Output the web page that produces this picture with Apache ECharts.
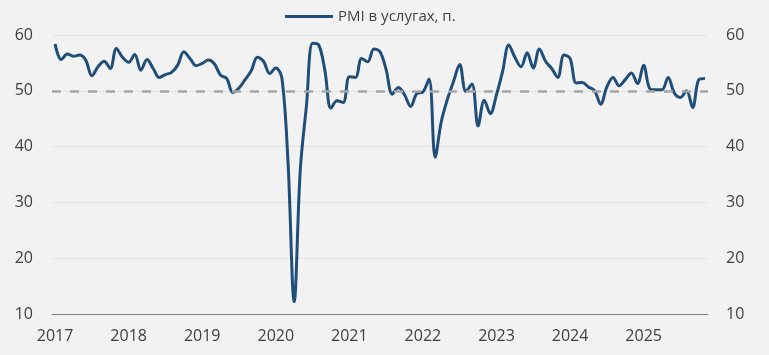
<!DOCTYPE html>
<html>
<head>
<meta charset="utf-8">
<script src="https://cdn.jsdelivr.net/npm/echarts@6/dist/echarts.min.js"></script>
<style>
html,body{margin:0;padding:0;background:#f2f2f2;}
#c{width:769px;height:355px;}
</style>
</head>
<body>
<div id="c"></div>
<script>
const years = ['2017','2018','2019','2020','2021','2022','2023','2024','2025'];
const yTicks = [10, 20, 30, 40, 50, 60];
const seriesName = 'PMI в услугах, п.';
const threshold = 50;
const pmi = [
  // 2017
  58.4, 55.6, 56.6, 56.2, 56.4, 55.5, 52.7, 54.3, 55.3, 54.0, 57.6, 56.0,
  // 2018
  55.1, 56.5, 53.7, 55.6, 54.0, 52.4, 52.9, 53.3, 54.6, 57.0, 55.8, 54.5,
  // 2019
  54.9, 55.5, 54.8, 52.8, 52.2, 49.7, 50.5, 52.0, 53.6, 56.0, 55.3, 53.1,
  // 2020
  54.1, 52.3, 37.1, 12.2, 35.9, 47.3, 58.5, 58.2, 53.7, 46.9, 48.2, 47.9,
  // 2021
  52.5, 52.4, 55.8, 55.2, 57.5, 57.0, 53.8, 49.4, 50.6, 49.3, 47.2, 49.5,
  // 2022
  49.8, 52.1, 38.1, 44.5, 48.5, 51.7, 54.7, 49.9, 51.2, 43.7, 48.3, 45.9,
  // 2023
  49.3, 53.5, 58.2, 56.0, 54.3, 56.8, 54.1, 57.5, 55.3, 54.0, 52.4, 56.4,
  // 2024
  55.8, 51.4, 51.5, 50.7, 50.0, 47.6, 50.7, 52.4, 50.9, 52.0, 53.2, 51.3,
  // 2025
  54.6, 50.4, 50.2, 50.2, 52.4, 49.6, 48.8, 50.0, 47.0, 52.0, 52.2
];
const categories = [];
for (let i = 0; i < pmi.length; i++) {
  const y = 2017 + Math.floor(i / 12);
  const m = (i % 12) + 1;
  categories.push(y + '-' + (m < 10 ? '0' + m : m));
}
const font = 'Open Sans';
const chart = echarts.init(document.getElementById('c'), null, {renderer: 'canvas'});
const yAxisCommon = {
  type: 'value', min: yTicks[0], max: yTicks[yTicks.length - 1], interval: 10,
  axisLine: {show: false}, axisTick: {show: false},
  splitLine: {show: true, lineStyle: {color: '#e3e3e3', width: 1}},
  axisLabel: {color: '#404040', fontSize: 16, fontFamily: font}
};
chart.setOption({
  backgroundColor: '#f2f2f2',
  animation: false,
  legend: {
    left: 280, top: 4,
    itemWidth: 48, itemHeight: 14, itemGap: 10,
    textStyle: {color: '#404040', fontSize: 15, fontFamily: font},
    data: [{name: seriesName, icon: 'path://M0,6 L48,6 L48,9 L0,9 Z'}]
  },
  grid: {left: 52, right: 61, top: 35, bottom: 41},
  xAxis: {
    type: 'category', data: categories, boundaryGap: true,
    axisLine: {show: true, lineStyle: {color: '#7f7f7f', width: 1}},
    axisTick: {show: false},
    axisLabel: {
      color: '#404040', fontSize: 16, fontFamily: font, margin: 14,
      interval: function (idx) { return idx % 12 === 0; },
      formatter: function (v) { return v.slice(0, 4); }
    }
  },
  yAxis: [
    Object.assign({}, yAxisCommon, {position: 'left', axisLabel: Object.assign({}, yAxisCommon.axisLabel, {margin: 19})}),
    Object.assign({}, yAxisCommon, {position: 'right', splitLine: {show: false}, axisLabel: Object.assign({}, yAxisCommon.axisLabel, {margin: 18})})
  ],
  series: [{
    name: seriesName, type: 'line', data: pmi, yAxisIndex: 0,
    smooth: 0.35, symbol: 'none',
    lineStyle: {color: '#1f4e79', width: 3},
    itemStyle: {color: '#1f4e79'},
    markLine: {
      silent: true, symbol: 'none', label: {show: false},
      lineStyle: {color: '#a6a6a6', type: [9, 9], width: 2.5},
      data: [{yAxis: threshold}]
    }
  }]
});
</script>
</body>
</html>
